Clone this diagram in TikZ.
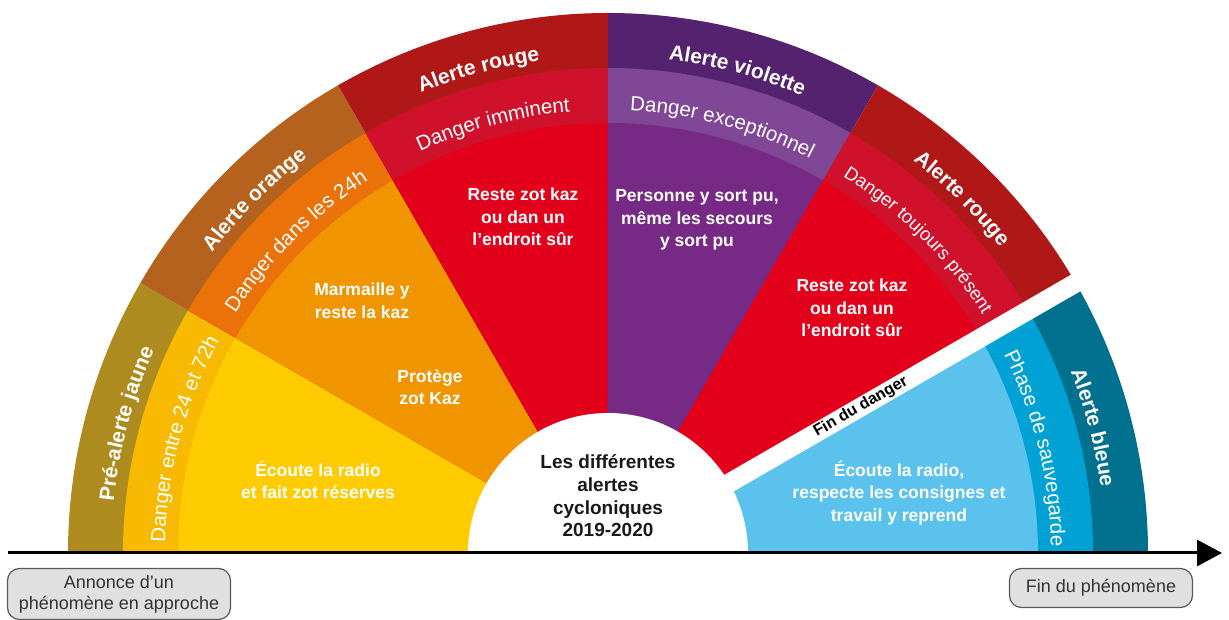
\documentclass[tikz,border=0pt]{standalone}
\usepackage{fontspec}
\setmainfont{Liberation Sans}
\usetikzlibrary{arrows.meta, decorations.text}

% Colours of the alert levels (outer ring, middle ring, inner part)
\definecolor{jauneOut}{RGB}{174,139,31}
\definecolor{jauneMid}{RGB}{247,186,0}
\definecolor{jauneIn}{RGB}{254,204,0}
\definecolor{orangeOut}{RGB}{181,98,30}
\definecolor{orangeMid}{RGB}{235,114,9}
\definecolor{orangeIn}{RGB}{240,148,0}
\definecolor{rougeOut}{RGB}{176,24,24}
\definecolor{rougeMid}{RGB}{208,17,43}
\definecolor{rougeIn}{RGB}{226,0,26}
\definecolor{violetOut}{RGB}{85,34,111}
\definecolor{violetMid}{RGB}{127,71,149}
\definecolor{violetIn}{RGB}{119,42,133}
\definecolor{bleueOut}{RGB}{0,112,143}
\definecolor{bleueMid}{RGB}{0,162,214}
\definecolor{bleueIn}{RGB}{91,194,238}
\definecolor{boxgray}{RGB}{224,224,224}

\newcommand{\alertfont}{\fontsize{21}{21}\selectfont\bfseries}
\newcommand{\dangerfont}{\fontsize{20.5}{21}\selectfont}
\newcommand{\smalldangerfont}{\fontsize{18.5}{21}\selectfont}

\begin{document}
\begin{tikzpicture}[
    x=1pt, y=1pt,
    >={Triangle[length=25pt, width=26pt]},
    % Styles
    msg/.style={ % text inside a sector
        text=white,
        align=center,
        font=\fontsize{17.5}{22.5}\selectfont\bfseries
    },
    title/.style={ % text in the white centre
        text=black!90,
        align=center,
        font=\fontsize{19}{22.7}\selectfont\bfseries
    },
    endbox/.style={ % start / end of the time line
        rectangle,
        rounded corners=12pt,
        draw=black!65,
        line width=1.2pt,
        fill=boxgray,
        text=black!80,
        align=center,
        font=\fontsize{18}{21}\selectfont
    },
    bandtext/.style={ % text following a ring
        decorate,
        decoration={text along path, text align=center, text color=white, text={#1}}
    }
]
    \useasboundingbox (-608,-67) rectangle (621,553);

    % Sectors: outer ring, middle ring, inner part
    \foreach \from/\to/\col in {150/180/jaune, 120/150/orange, 90/120/rouge,
                                60/90/violet, 30/60/rouge, 0/30/bleue} {
        \fill[fill=\col Out] (0,0) -- (\from:540) arc[start angle=\from, end angle=\to, radius=540] -- cycle;
        \fill[fill=\col Mid] (0,0) -- (\from:485) arc[start angle=\from, end angle=\to, radius=485] -- cycle;
        \fill[fill=\col In] (0,0) -- (\from:430) arc[start angle=\from, end angle=\to, radius=430] -- cycle;
    }

    % White centre and the gap before the blue alert
    \fill[white] (140,0) arc[start angle=0, end angle=180, radius=140] -- cycle;
    \draw[white, line width=19] (0,0) -- (30:580);

    % Names of the alerts
    \path[bandtext={|\alertfont|Pré-alerte jaune}] (180:497) arc[start angle=180, end angle=150, radius=497];
    \path[bandtext={|\alertfont|Alerte orange}] (150:497) arc[start angle=150, end angle=120, radius=497];
    \path[bandtext={|\alertfont|Alerte rouge}] (120:497) arc[start angle=120, end angle=90, radius=497];
    \path[bandtext={|\alertfont|Alerte violette}] (90:497) arc[start angle=90, end angle=60, radius=497];
    \path[bandtext={|\alertfont|Alerte rouge}] (60:497) arc[start angle=60, end angle=30, radius=497];
    \path[bandtext={|\alertfont|Alerte bleue}] (29:497) arc[start angle=29, end angle=0, radius=497];

    % Level of danger
    \path[bandtext={|\dangerfont|Danger entre 24 et 72h}] (180:443) arc[start angle=180, end angle=150, radius=443];
    \path[bandtext={|\dangerfont|Danger dans les 24h}] (150:443) arc[start angle=150, end angle=120, radius=443];
    \path[bandtext={|\dangerfont|Danger imminent}] (120:443) arc[start angle=120, end angle=90, radius=443];
    \path[bandtext={|\dangerfont|Danger exceptionnel}] (90:443) arc[start angle=90, end angle=60, radius=443];
    \path[bandtext={|\smalldangerfont|Danger toujours présent}] (60:444) arc[start angle=60, end angle=30.5, radius=444];
    \path[bandtext={|\dangerfont|Phase de sauvegarde}] (27.5:443) arc[start angle=27.5, end angle=0, radius=443];

    % What to do
    \node[msg] (radio) at (-290,73) {Écoute la radio\\et fait zot réserves};
    \node[msg] (marmaille) at (-246,252) {Marmaille y\\reste la kaz};
    \node[msg] (protege) at (-178,166) {Protège\\zot Kaz};
    \node[msg] (kaz) at (-85,336) {Reste zot kaz\\ou dan un\\l’endroit sûr};
    \node[msg] (personne) at (89,333) {Personne y sort pu,\\même les secours\\y sort pu};
    \node[msg] (kazbis) at (244,245) {Reste zot kaz\\ou dan un\\l’endroit sûr};
    \node[msg] (reprend) at (291,60) {Écoute la radio,\\respecte les consignes et\\travail y reprend};

    \node[rotate=30, font=\fontsize{16}{16}\selectfont\bfseries] (findanger) at (30:292) {Fin du danger};

    % Title
    \node[title] (titre) at (0,57) {Les différentes\\alertes\\cycloniques\\2019-2020};

    % Time line
    \coordinate (axstart) at (-600,0);
    \coordinate (axend) at (614,0);
    \draw[->, line width=3] (axstart) -- (axend);

    \node[endbox, minimum width=223, minimum height=51] (annonce) at (-489,-41) {Annonce d’un\\phénomène en approche};
    \node[endbox, minimum width=183, minimum height=39] (fin) at (493,-35) {Fin du phénomène};
\end{tikzpicture}
\end{document}
